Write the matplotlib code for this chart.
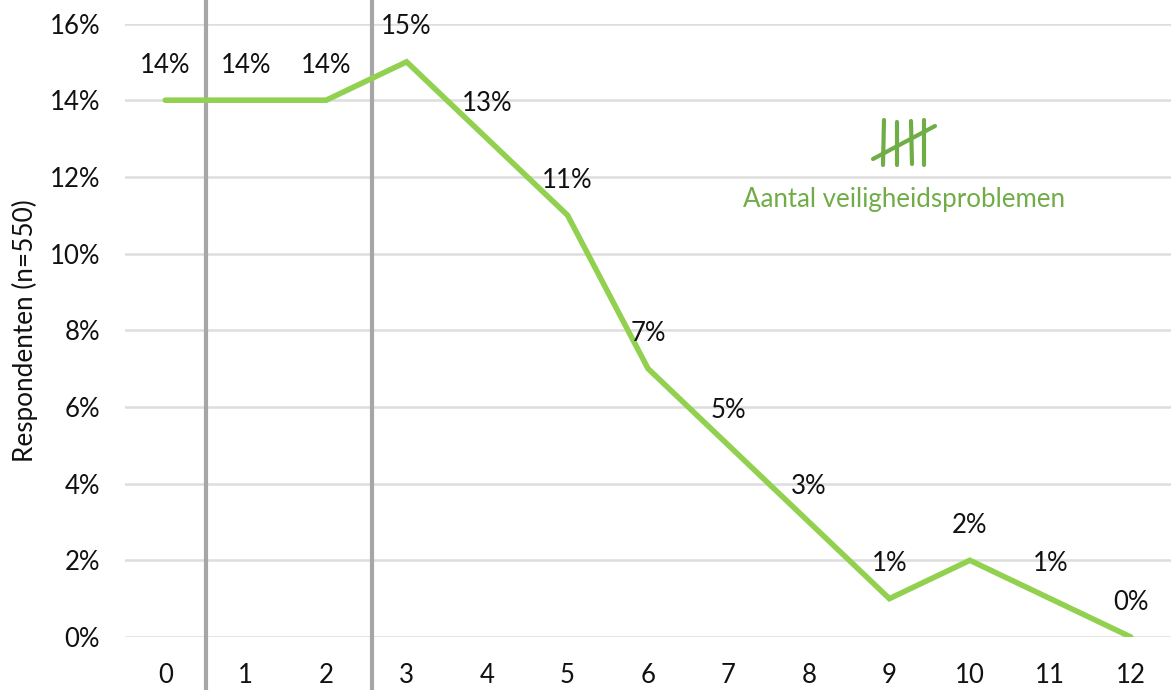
import matplotlib
matplotlib.use("Agg")
import matplotlib.pyplot as plt

plt.rcParams['font.family'] = ['Lato', 'DejaVu Sans']

categories = ["0", "1", "2", "3", "4", "5", "6", "7", "8", "9", "10", "11", "12"]
values = [14, 14, 14, 15, 13, 11, 7, 5, 3, 1, 2, 1, 0]
yticks = [0, 2, 4, 6, 8, 10, 12, 14, 16]
GREEN = "#92D050"
DARK_GREEN = "#70AD47"
W, H = 1171, 690


def px_line(x0, y0, x1, y1):
    # icon is placed in picture pixels, not data
    fig.add_artist(plt.Line2D([x0 / W, x1 / W], [1 - y0 / H, 1 - y1 / H], color=DARK_GREEN, lw=3, solid_capstyle="round"))


fig = plt.figure(figsize=(11.71, 6.9), dpi=100)
ax = fig.add_axes([125 / W, 1 - 637 / H, (W - 125) / W, (637 - 23.5) / H])

x = list(range(len(categories)))
ax.plot(x, values, color=GREEN, lw=4, solid_capstyle="round", solid_joinstyle="miter", zorder=3)

for xi, v in zip(x, values):
    ax.annotate(f"{v}%", (xi, v), xytext=(0, 35), textcoords="offset pixels", ha="center", va="center", fontsize=18.5, color="#111111", zorder=4)

ax.set_xlim(-0.5, 12.5)
ax.set_ylim(0, 16)
ax.set_xticks(x)
ax.set_xticklabels(categories, fontsize=18.5, color="#111111")
ax.set_yticks(yticks)
ax.set_yticklabels([f"{t}%" for t in yticks], fontsize=18.5, color="#111111")
ax.tick_params(axis="y", length=0, pad=18)
ax.tick_params(axis="x", length=0, pad=19)
ax.grid(axis="y", color="#DDDDDD", lw=1.8)
ax.set_axisbelow(True)
for s in ax.spines.values():
    s.set_visible(False)
ax.set_ylabel("Respondenten (n=550)", fontsize=18.8, color="#111111")
ax.yaxis.set_label_coords(-87 / 1046, 0.5)

for v in [0.505, 2.575]:
    ax.axvline(v, ymin=-0.09, ymax=1.05, color="#A6A6A6", lw=3, clip_on=False, zorder=2)

fig.text(904 / W, 1 - 200 / H, "Aantal veiligheidsproblemen", color=DARK_GREEN, fontsize=18.6, ha="center", va="center")

px_line(884, 120, 883, 165)
px_line(897, 122, 897, 165)
px_line(911, 121, 912, 164)
px_line(924, 120, 924, 165)
px_line(873, 159, 935, 126)

fig.savefig("out.png", dpi=100)
